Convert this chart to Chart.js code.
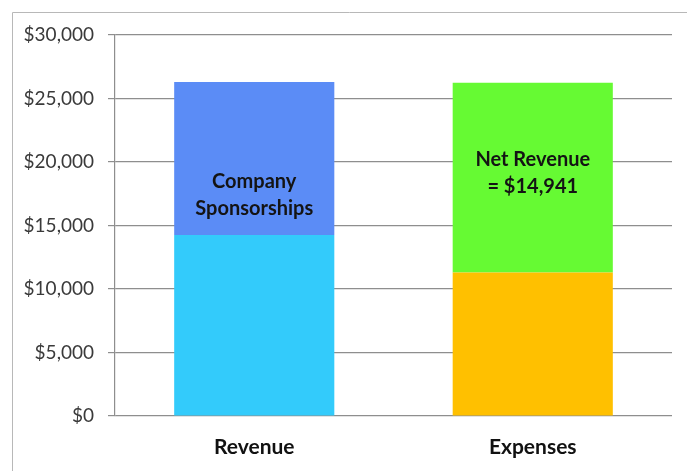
<!DOCTYPE html>
<html>
<head>
<meta charset="utf-8">
<script src="https://cdn.jsdelivr.net/npm/chart.js@4.4.1/dist/chart.umd.min.js"></script>
<style>
  html, body { margin: 0; padding: 0; background: #ffffff; }
  #wrap { position: absolute; left: 0; top: 0; width: 687px; height: 471px; }
</style>
</head>
<body>
<div id="wrap"><canvas id="chart"></canvas></div>
<script>
/* Dados */
const categories   = ['Revenue', 'Expenses'];
const baseValues   = [14250, 11300];   // Receita geral / Despesas
const topValues    = [12050, 14941];   // Patrocínios / Receita líquida
const baseColors   = ['#33cbfb', '#ffc000'];
const topColors    = ['#5b8cf6', '#66fa33'];
const segLabels    = [['Company', 'Sponsorships'], ['Net Revenue', '= $14,941']];
const segLabelAt   = [17400, 19150];   // valor no eixo onde o texto fica centrado
const yTicks       = [0, 5000, 10000, 15000, 20000, 25000, 30000];

const FONT = "Lato, 'Open Sans', sans-serif";

/* Moldura cinza (esquerda e topo) */
const framePlugin = {
  id: 'frame',
  beforeDraw(chart) {
    const ctx = chart.ctx;
    ctx.save();
    ctx.strokeStyle = '#b8b8b8';
    ctx.lineWidth = 1;
    ctx.beginPath();
    ctx.moveTo(12.5, 471);
    ctx.lineTo(12.5, 12.5);
    ctx.lineTo(687, 12.5);
    ctx.stroke();
    ctx.restore();
  }
};

/* Texto dentro dos segmentos de cima */
const segLabelPlugin = {
  id: 'segLabels',
  afterDatasetsDraw(chart) {
    const ctx = chart.ctx;
    const meta = chart.getDatasetMeta(1);
    const y = chart.scales.y;
    ctx.save();
    ctx.font = 'bold 20px ' + FONT;
    ctx.fillStyle = '#141414';
    ctx.textAlign = 'center';
    ctx.textBaseline = 'middle';
    meta.data.forEach((bar, i) => {
      const lines = segLabels[i];
      const cy = y.getPixelForValue(segLabelAt[i]);
      const lh = 27;
      lines.forEach((t, k) => {
        ctx.fillText(t, bar.x, cy + (k - (lines.length - 1) / 2) * lh);
      });
    });
    ctx.restore();
  }
};

new Chart(document.getElementById('chart'), {
  type: 'bar',
  data: {
    labels: categories,
    datasets: [
      { label: 'base', data: baseValues, backgroundColor: baseColors, borderWidth: 0 },
      { label: 'top',  data: topValues,  backgroundColor: topColors,  borderWidth: 0 }
    ]
  },
  options: {
    responsive: true,
    maintainAspectRatio: false,
    animation: false,
    layout: { padding: { top: 35, right: 15, bottom: 0, left: 0 } },
    datasets: { bar: { barPercentage: 0.575, categoryPercentage: 1.0 } },
    plugins: {
      legend: { display: false },
      tooltip: { enabled: false }
    },
    scales: {
      x: {
        stacked: true,
        afterFit: s => { s.height = 55; },
        grid: { display: false },
        border: { display: false },
        ticks: {
          color: '#111111',
          font: { size: 21, weight: 'bold', family: FONT },
          padding: 11
        }
      },
      y: {
        stacked: true,
        min: 0,
        max: 30000,
        afterBuildTicks: s => { s.ticks = yTicks.map(v => ({ value: v })); },
        afterFit: s => { s.width = 115; },
        grid: { color: '#8e8e8e', lineWidth: 1.2, tickLength: 7 },
        border: { color: '#8e8e8e', width: 1.2 },
        ticks: {
          color: '#3a3a3a',
          font: { size: 19, family: FONT },
          padding: 14,
          callback: v => '$' + v.toLocaleString('en-US')
        }
      }
    }
  },
  plugins: [framePlugin, segLabelPlugin]
});
</script>
</body>
</html>
